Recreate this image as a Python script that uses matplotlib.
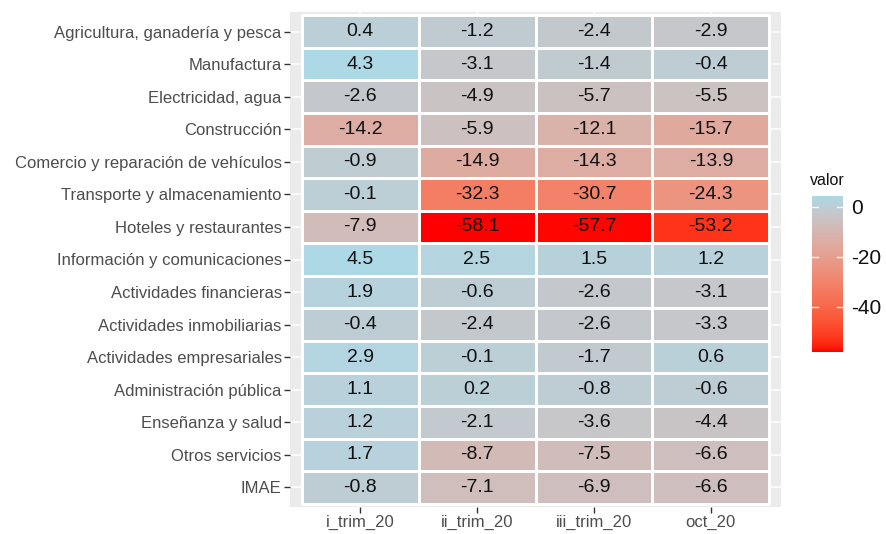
import matplotlib

matplotlib.use("Agg")
import matplotlib.pyplot as plt
import numpy as np
from matplotlib.colors import ListedColormap, Normalize, to_rgb

plt.rcParams["font.family"] = ["Liberation Sans", "DejaVu Sans"]
plt.rcParams["axes.unicode_minus"] = False

# --- data ------------------------------------------------------------------
sectors = [
    "Agricultura, ganadería y pesca",
    "Manufactura",
    "Electricidad, agua",
    "Construcción",
    "Comercio y reparación de vehículos",
    "Transporte y almacenamiento",
    "Hoteles y restaurantes",
    "Información y comunicaciones",
    "Actividades financieras",
    "Actividades inmobiliarias",
    "Actividades empresariales",
    "Administración pública",
    "Enseñanza y salud",
    "Otros servicios",
    "IMAE",
]
periods = ["i_trim_20", "ii_trim_20", "iii_trim_20", "oct_20"]
i_trim_20 = [0.4, 4.3, -2.6, -14.2, -0.9, -0.1, -7.9, 4.5, 1.9, -0.4, 2.9, 1.1, 1.2, 1.7, -0.8]
ii_trim_20 = [-1.2, -3.1, -4.9, -5.9, -14.9, -32.3, -58.1, 2.5, -0.6, -2.4, -0.1, 0.2, -2.1, -8.7, -7.1]
iii_trim_20 = [-2.4, -1.4, -5.7, -12.1, -14.3, -30.7, -57.7, 1.5, -2.6, -2.6, -1.7, -0.8, -3.6, -7.5, -6.9]
oct_20 = [-2.9, -0.4, -5.5, -15.7, -13.9, -24.3, -53.2, 1.2, -3.1, -3.3, 0.6, -0.6, -4.4, -6.6, -6.6]
legend_ticks = [0, -20, -40]

values = np.column_stack([i_trim_20, ii_trim_20, iii_trim_20, oct_20])


# --- ggplot-like gradient (red -> lightblue, interpolated in CIELAB) --------
def srgb_to_lab(rgb):
    c = np.asarray(rgb, dtype=float)
    lin = np.where(c <= 0.04045, c / 12.92, ((c + 0.055) / 1.055) ** 2.4)
    m = np.array([[0.4124564, 0.3575761, 0.1804375],
                  [0.2126729, 0.7151522, 0.0721750],
                  [0.0193339, 0.1191920, 0.9503041]])
    xyz = m @ lin / np.array([0.95047, 1.0, 1.08883])
    f = np.where(xyz > 216 / 24389, np.cbrt(xyz), (24389 / 27 * xyz + 16) / 116)
    return np.array([116 * f[1] - 16, 500 * (f[0] - f[1]), 200 * (f[1] - f[2])])


def lab_to_srgb(lab):
    L, a, b = lab
    fy = (L + 16) / 116
    fx = fy + a / 500
    fz = fy - b / 200
    f = np.array([fx, fy, fz])
    xyz = np.where(f ** 3 > 216 / 24389, f ** 3, (116 * f - 16) / (24389 / 27))
    xyz = xyz * np.array([0.95047, 1.0, 1.08883])
    minv = np.array([[3.2404542, -1.5371385, -0.4985314],
                     [-0.9692660, 1.8760108, 0.0415560],
                     [0.0556434, -0.2040259, 1.0572252]])
    lin = np.clip(minv @ xyz, 0, 1)
    c = np.where(lin <= 0.0031308, 12.92 * lin, 1.055 * lin ** (1 / 2.4) - 0.055)
    return np.clip(c, 0, 1)


lo = srgb_to_lab(to_rgb("red"))
hi = srgb_to_lab(to_rgb("lightblue"))
cmap = ListedColormap([lab_to_srgb(lo + (hi - lo) * t) for t in np.linspace(0, 1, 256)])
norm = Normalize(vmin=values.min(), vmax=values.max())

# --- figure ----------------------------------------------------------------
W, H = 886, 534
fig = plt.figure(figsize=(W / 100, H / 100), dpi=100)
ax = fig.add_axes([290 / W, 27 / H, 491 / W, 495 / H])
ax.set_facecolor("#EBEBEB")

n_rows, n_cols = values.shape
ax.pcolormesh(
    np.arange(n_cols + 1) - 0.5, np.arange(n_rows + 1) - 0.5, values,
    cmap=cmap, norm=norm, edgecolors="white", linewidth=0.8, zorder=2,
)
for r in range(n_rows):
    for c in range(n_cols):
        ax.text(c, r, f"{values[r, c]:.1f}", ha="center", va="center",
                fontsize=14, color="#111111", zorder=3)

ax.set_xlim(-0.6, n_cols - 0.4)
ax.set_ylim(n_rows - 0.4, -0.6)
ax.set_xticks(range(n_cols))
ax.set_xticklabels(periods)
ax.set_yticks(range(n_rows))
ax.set_yticklabels(sectors)
ax.tick_params(axis="both", length=4, width=1, color="#333333",
               labelcolor="#4D4D4D", labelsize=12, pad=2)
ax.grid(True, color="white", linewidth=1.1, zorder=0)
ax.set_axisbelow(True)
for s in ax.spines.values():
    s.set_visible(False)

# --- legend (colourbar) ------------------------------------------------------
vmin, vmax = values.min(), values.max()
px_per_unit = 2.5
top_px = 207 - vmax * px_per_unit
bot_px = 207 - vmin * px_per_unit
cax = fig.add_axes([812 / W, (H - bot_px) / H, 31 / W, (bot_px - top_px) / H])
grad = np.linspace(vmin, vmax, 300)[:, None]
cax.imshow(grad, cmap=cmap, norm=norm, aspect="auto", origin="lower",
           extent=[0, 1, vmin, vmax])
cax.set_xlim(0, 1)
cax.set_ylim(vmin, vmax)
cax.set_xticks([])
cax.set_yticks(legend_ticks)
cax.yaxis.tick_right()
cax.tick_params(axis="y", length=0, labelsize=15, labelcolor="#111111", pad=6)
for t in legend_ticks:
    cax.plot([0, 0.2], [t, t], color="white", lw=1, alpha=0.9)
    cax.plot([0.8, 1], [t, t], color="white", lw=1, alpha=0.9)
for s in cax.spines.values():
    s.set_visible(False)
fig.text(810 / W, (H - 185) / H, "valor", fontsize=11.5, color="#111111",
         ha="left", va="baseline")

fig.savefig("out.png", dpi=100)
